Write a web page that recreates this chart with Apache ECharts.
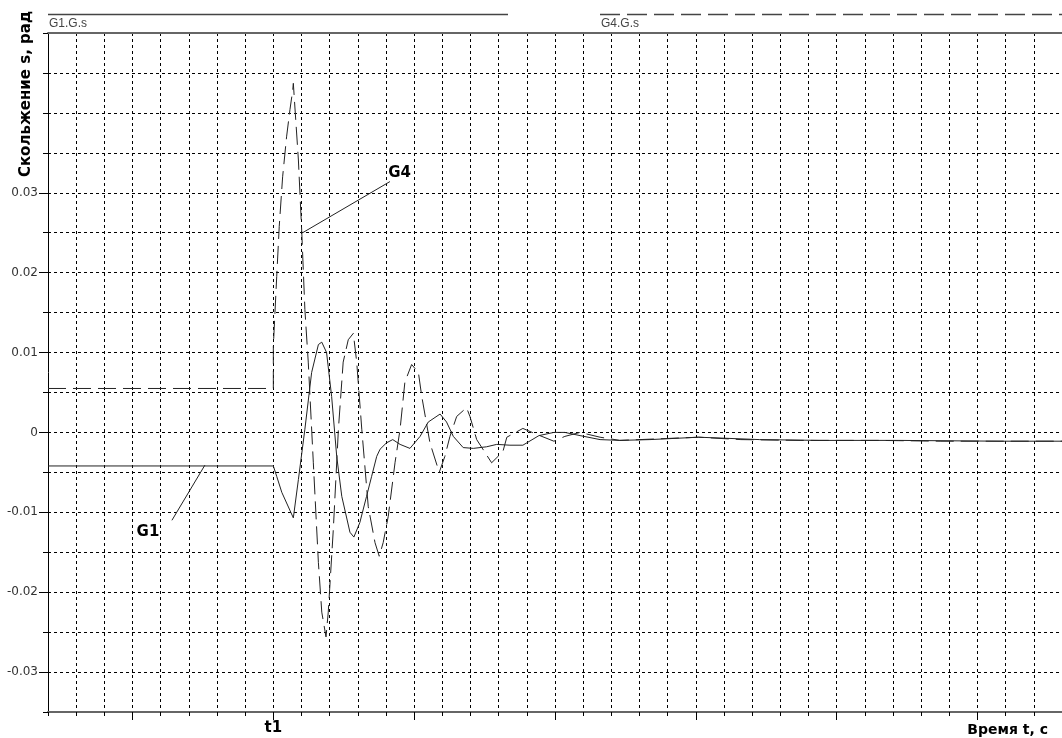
<!DOCTYPE html>
<html>
<head>
<meta charset="utf-8">
<script src="https://cdn.jsdelivr.net/npm/echarts@6/dist/echarts.min.js"></script>
<style>
html,body{margin:0;padding:0;background:#fff;}
#chart{width:1062px;height:738px;}
</style>
</head>
<body>
<div id="chart"></div>
<script>
// ---- data (time in grid units, t1 = 8) ----
const g1Time = [0, 8, 8.12, 8.3, 8.71, 8.89, 9.12, 9.36, 9.6, 9.72, 9.89, 10.07, 10.25, 10.43, 10.72, 10.86, 11.07, 11.31, 11.49, 11.67, 11.79, 12.02, 12.24, 12.5, 12.85, 13.21, 13.5, 13.92, 14.15, 14.39, 14.74, 15.1, 15.57, 15.93, 16.4, 16.86, 17.43, 17.96, 18.35, 18.89, 19.6, 20.3, 21.37, 23.1, 25.27, 27.4, 30.2, 33.8, 36];
const g1Slip = [-0.0042, -0.0042, -0.0055, -0.0075, -0.0107, -0.0059, 0.0004, 0.0075, 0.011, 0.0113, 0.01, 0.0045, -0.003, -0.008, -0.0125, -0.0131, -0.0113, -0.008, -0.0055, -0.003, -0.0021, -0.0013, -0.0009, -0.0015, -0.002, -0.0005, 0.0013, 0.0023, 0.0013, -0.0005, -0.0019, -0.002, -0.0018, -0.0015, -0.0016, -0.0016, -0.0004, 0, 0, -0.0004, -0.0009, -0.001, -0.0009, -0.0006, -0.0009, -0.001, -0.001, -0.0011, -0.0011];
const g4Time = [0, 8, 8, 8.12, 8.21, 8.33, 8.47, 8.59, 8.69, 8.71, 8.89, 9.01, 9.12, 9.24, 9.42, 9.6, 9.72, 9.87, 9.95, 10.13, 10.31, 10.48, 10.66, 10.84, 10.96, 11.14, 11.37, 11.61, 11.76, 11.9, 12.08, 12.32, 12.5, 12.67, 12.91, 13.15, 13.27, 13.56, 13.89, 14.09, 14.27, 14.51, 14.86, 14.98, 15.22, 15.75, 16.15, 16.29, 16.86, 17.32, 17.96, 18.35, 18.89, 19.6, 20.3, 21.7, 23.1, 24.6, 26.7, 29.5, 31.7, 33.8, 36];
const g4Slip = [0.0055, 0.0055, 0.0108, 0.0195, 0.0258, 0.032, 0.037, 0.0404, 0.0429, 0.0437, 0.0341, 0.025, 0.0154, 0.0088, -0.0038, -0.0163, -0.0225, -0.0256, -0.0225, -0.0121, 0.0004, 0.0088, 0.0116, 0.0124, 0.0088, 0.0004, -0.0093, -0.0138, -0.0155, -0.0138, -0.0105, -0.0038, 0.0004, 0.0063, 0.0085, 0.0075, 0.0045, -0.0013, -0.005, -0.003, -0.0005, 0.002, 0.0031, 0.002, -0.0009, -0.0038, -0.0024, -0.0006, 0.0005, -0.0002, -0.0011, -0.0005, 0, -0.0006, -0.001, -0.0008, -0.0006, -0.0009, -0.001, -0.001, -0.0011, -0.0011, -0.0011];
const yLabelValues = [-0.03, -0.02, -0.01, 0, 0.01, 0.02, 0.03];
const xMajorTicks = [3, 8, 13, 18, 23, 28, 33];
const xLabelValues = [8];
const xLabelTexts = {8: 't1'};
const legendNames = ['G1.G.s', 'G4.G.s'];
const seriesLabels = ['G1', 'G4'];
const yTitle = 'Скольжение s, рад';
const xTitle = 'Время t, с';
// annotation anchors (data coords): [leaderStart, leaderEnd, labelCenter]
const g1Note = [[5.57, -0.0041], [4.4, -0.011], [3.55, -0.0125]];
const g4Note = [[9.04, 0.025], [12.14, 0.0314], [12.48, 0.0324]];

const zip = (a, b) => a.map((v, i) => [v, b[i]]);
const FONT = 'DejaVu Sans';
const ink = '#222';

const chart = echarts.init(document.getElementById('chart'), null, {renderer: 'canvas'});

function note(n, text) {
  return {
    markLine: {
      silent: true, symbol: ['none', 'none'], animation: false,
      lineStyle: {color: ink, width: 1, type: 'solid'},
      label: {show: false},
      data: [[{coord: n[0]}, {coord: n[1]}]]
    },
    markPoint: {
      silent: true, symbol: 'circle', symbolSize: 1, animation: false,
      itemStyle: {color: 'rgba(0,0,0,0)'},
      label: {show: true, position: 'inside', formatter: text, color: '#000',
        fontFamily: FONT, fontWeight: 'bold', fontSize: 15},
      data: [{coord: n[2]}]
    }
  };
}

const option = {
  animation: false,
  backgroundColor: '#fff',
  grid: {left: 48, right: 0, top: 33, bottom: 26, containLabel: false, outerBoundsMode: 'none'},
  xAxis: [
    {
      type: 'value', position: 'bottom', min: 0, max: 36, interval: 1,
      axisLine: {show: true, onZero: false, lineStyle: {color: '#666', width: 2}},
      axisTick: {show: true, length: 4, lineStyle: {color: '#000'}},
      axisLabel: {show: true, customValues: xLabelValues, formatter: v => xLabelTexts[Math.round(v)] || '',
        color: '#000', fontFamily: FONT, fontWeight: 'bold', fontSize: 15, margin: 9},
      splitLine: {show: true, lineStyle: {color: '#000', type: [3, 3], width: 1}}
    },
    {
      type: 'value', position: 'bottom', min: 0, max: 36, interval: 1,
      axisLine: {show: false, onZero: false},
      axisTick: {show: true, length: 8, customValues: xMajorTicks, lineStyle: {color: '#000'}},
      axisLabel: {show: false},
      splitLine: {show: false}
    },
    {
      type: 'value', position: 'top', min: 0, max: 36, interval: 1,
      axisLine: {show: true, onZero: false, lineStyle: {color: '#666', width: 2}},
      axisTick: {show: false}, axisLabel: {show: false}, splitLine: {show: false}
    }
  ],
  yAxis: [
    {
      type: 'value', position: 'left', min: -0.035, max: 0.05, interval: 0.005,
      axisLine: {show: true, onZero: false, lineStyle: {color: '#000', width: 1}},
      axisTick: {show: true, length: 5, lineStyle: {color: '#000'}},
      axisLabel: {show: true, customValues: yLabelValues,
        formatter: v => String(+Number(v).toFixed(3)),
        color: '#333', fontFamily: FONT, fontSize: 12, margin: 10},
      splitLine: {show: true, lineStyle: {color: '#000', type: [3, 3], width: 1}}
    },
    {
      type: 'value', position: 'left', min: -0.035, max: 0.05, interval: 0.005,
      axisLine: {show: false, onZero: false},
      axisTick: {show: true, length: 9, customValues: yLabelValues, lineStyle: {color: '#000'}},
      axisLabel: {show: false}, splitLine: {show: false}
    }
  ],
  series: [
    Object.assign({
      name: legendNames[0], type: 'line', data: zip(g1Time, g1Slip),
      xAxisIndex: 0, yAxisIndex: 0,
      showSymbol: false, symbol: 'none', smooth: false,
      lineStyle: {color: ink, width: 1, type: 'solid'}
    }, note(g1Note, seriesLabels[0])),
    Object.assign({
      name: legendNames[1], type: 'line', data: zip(g4Time, g4Slip),
      xAxisIndex: 0, yAxisIndex: 0,
      showSymbol: false, symbol: 'none', smooth: false,
      lineStyle: {color: ink, width: 1, type: [18, 7]}
    }, note(g4Note, seriesLabels[1]))
  ],
  graphic: [
    {type: 'line', silent: true, shape: {x1: 48, y1: 14.5, x2: 508, y2: 14.5},
      style: {stroke: '#444', lineWidth: 1.5}},
    {type: 'text', silent: true, x: 49, y: 24,
      style: {text: legendNames[0], fill: '#444', font: '12px "Liberation Sans"', textVerticalAlign: 'middle'}},
    {type: 'line', silent: true, shape: {x1: 600, y1: 14.5, x2: 1062, y2: 14.5},
      style: {stroke: '#444', lineWidth: 1.5, lineDash: [20, 7]}},
    {type: 'text', silent: true, x: 601, y: 24,
      style: {text: legendNames[1], fill: '#444', font: '12px "Liberation Sans"', textVerticalAlign: 'middle'}},
    {type: 'text', silent: true, x: 26, y: 94, rotation: Math.PI / 2,
      style: {text: yTitle, fill: '#000', font: 'bold 15px "DejaVu Sans"', textAlign: 'center', textVerticalAlign: 'middle'}},
    {type: 'text', silent: true, x: 1048, y: 730,
      style: {text: xTitle, fill: '#000', font: 'bold 14px "DejaVu Sans"', textAlign: 'right', textVerticalAlign: 'middle'}}
  ]
};
chart.setOption(option);
</script>
</body>
</html>
